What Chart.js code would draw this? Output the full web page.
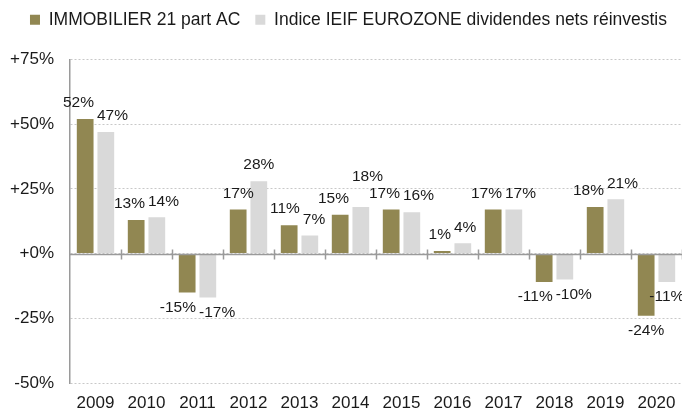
<!DOCTYPE html>
<html>
<head>
<meta charset="utf-8">
<script src="https://cdn.jsdelivr.net/npm/chart.js@4"></script>
<style>
  html, body { margin: 0; padding: 0; background: #fff; }
  #wrap { width: 682px; height: 412px; }
</style>
</head>
<body>
<div id="wrap"><canvas id="graf"></canvas></div>
<script>
// Données
const annees = ['2009', '2010', '2011', '2012', '2013', '2014', '2015', '2016', '2017', '2018', '2019', '2020'];
const immobilier21 = [52, 13, -15, 17, 11, 15, 17, 1, 17, -11, 18, -24];
const indiceIeif = [47, 14, -17, 28, 7, 18, 16, 4, 17, -10, 21, -11];
const graduations = [-50, -25, 0, 25, 50, 75];

const police = "'Liberation Sans', Arial, sans-serif";
Chart.defaults.font.family = police;
Chart.defaults.color = '#1a1a1a';

// Étiquettes de valeurs au-dessus / au-dessous des barres
// (écartées l'une de l'autre quand elles se chevauchent)
const etiquettes = {
    id: 'etiquettes',
    afterDatasetsDraw(chart) {
        const ctx = chart.ctx;
        ctx.save();
        ctx.font = '15.5px ' + police;
        ctx.fillStyle = '#1a1a1a';
        ctx.textAlign = 'center';
        ctx.textBaseline = 'middle';
        const m0 = chart.getDatasetMeta(0).data;
        const m1 = chart.getDatasetMeta(1).data;
        const toutes = [];
        annees.forEach((_, j) => {
            const items = [[immobilier21[j], m0[j]], [indiceIeif[j], m1[j]]].map(([v, barre]) => {
                const txt = Math.round(v) + '%';
                return {
                    txt,
                    v,
                    x: barre.x,
                    y: v >= 0 ? barre.y - 16 : barre.y + 15,
                    w: ctx.measureText(txt).width
                };
            });
            const [a, b] = items;
            if (Math.abs(a.y - b.y) < 17) {
                const manque = (a.w + b.w) / 2 + 3 - (b.x - a.x);
                if (manque > 0) {
                    a.x -= manque / 2;
                    b.x += manque / 2;
                }
            }
            toutes.push(a, b);
        });
        // entre deux années voisines : on remonte (ou descend) la première étiquette
        for (let i = 1; i < toutes.length - 1; i += 2) {
            const p = toutes[i], s = toutes[i + 1];
            const dx = (p.w + s.w) / 2 + 2 - (s.x - p.x);
            const dy = 17 - Math.abs(p.y - s.y);
            if (dx > 0 && dy > 0 && Math.sign(p.v) === Math.sign(s.v)) {
                p.y += p.v >= 0 ? -dy : dy;
            }
        }
        toutes.forEach(it => ctx.fillText(it.txt, it.x, it.y));
        ctx.restore();
    }
};

// Ligne du zéro avec petites graduations entre catégories
const ligneZero = {
    id: 'ligneZero',
    afterDatasetsDraw(chart) {
        const ctx = chart.ctx;
        const x = chart.scales.x;
        const y = chart.scales.y;
        const y0 = Math.round(y.getPixelForValue(0)) + 0.5;
        const pas = x.getPixelForValue(1) - x.getPixelForValue(0);
        ctx.save();
        ctx.strokeStyle = '#9a9a9a';
        ctx.lineWidth = 1.5;
        ctx.beginPath();
        ctx.moveTo(chart.chartArea.left, y0);
        ctx.lineTo(chart.chartArea.right, y0);
        for (let i = 1; i <= annees.length; i++) {
            const xi = Math.round(x.getPixelForValue(i) - pas / 2) + 0.5;
            ctx.moveTo(xi, y0 - 5);
            ctx.lineTo(xi, y0 + 5);
        }
        ctx.stroke();
        ctx.restore();
    }
};

// Un peu plus d'espace sous la légende
const espaceLegende = {
    id: 'espaceLegende',
    beforeInit(chart) {
        const fitOrig = chart.legend.fit;
        chart.legend.fit = function () {
            fitOrig.call(this);
            this.height += 21;
        };
    }
};

new Chart(document.getElementById('graf'), {
    type: 'bar',
    data: {
        labels: annees,
        datasets: [{
            label: 'IMMOBILIER 21 part AC',
            data: immobilier21,
            backgroundColor: '#918752'
        }, {
            label: 'Indice IEIF EUROZONE dividendes nets réinvestis',
            data: indiceIeif,
            backgroundColor: '#d9d9d9'
        }]
    },
    options: {
        responsive: true,
        maintainAspectRatio: false,
        animation: false,
        layout: { padding: { top: -4, right: 0, left: 0, bottom: 0 } },
        datasets: {
            bar: { categoryPercentage: 0.81, barPercentage: 0.81 }
        },
        plugins: {
            legend: {
                position: 'top',
                align: 'end',
                labels: {
                    boxWidth: 10,
                    boxHeight: 10,
                    padding: 15,
                    font: { size: 17.5 },
                    color: '#1a1a1a'
                }
            },
            tooltip: { enabled: false }
        },
        scales: {
            x: {
                grid: { display: false },
                border: { display: false },
                ticks: { font: { size: 17 }, color: '#1a1a1a', padding: 2 },
                afterFit(s) { s.height = 29; }
            },
            y: {
                min: -50,
                max: 75,
                afterBuildTicks(s) { s.ticks = graduations.map(v => ({ value: v })); },
                ticks: {
                    font: { size: 17 },
                    color: '#1a1a1a',
                    padding: 16,
                    callback: v => (v >= 0 ? '+' : '') + v + '%'
                },
                grid: {
                    color: '#c8c8c8',
                    lineWidth: 1,
                    drawTicks: false
                },
                border: { display: true, color: '#9a9a9a', width: 1.5, dash: [2, 2] },
                afterFit(s) { s.width = 70; }
            }
        }
    },
    plugins: [etiquettes, ligneZero, espaceLegende]
});
</script>
</body>
</html>
